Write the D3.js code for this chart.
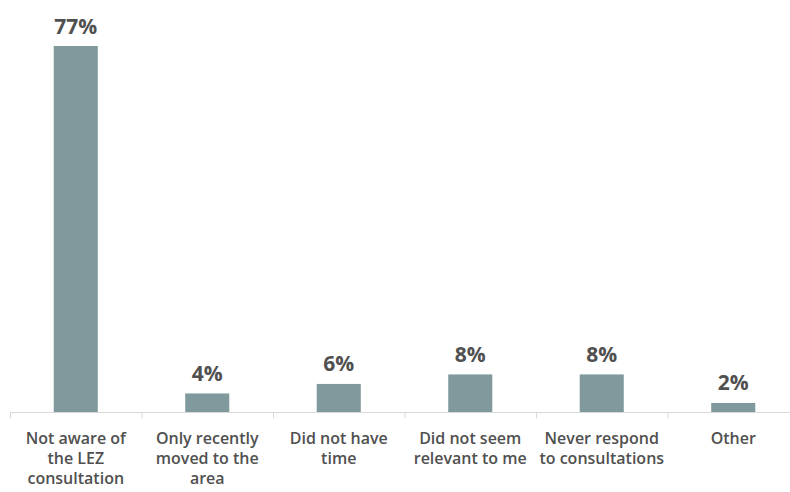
<!DOCTYPE html>
<html>
<head>
<meta charset="utf-8">
<script src="https://cdn.jsdelivr.net/npm/d3@7"></script>
<style>
  body { margin: 0; background: #fff; }
  svg { display: block; font-family: "Open Sans", sans-serif; }
  .cat { fill: #505050; font-size: 16px; font-weight: 600; }
  .val { fill: #505050; font-size: 21px; font-weight: bold; }
</style>
</head>
<body>
<svg width="790" height="492"></svg>
<script>
// categories (each label split in lines)
const categories = [
  ["Not aware of", "the LEZ", "consultation"],
  ["Only recently", "moved to the", "area"],
  ["Did not have", "time"],
  ["Did not seem", "relevant to me"],
  ["Never respond", "to consultations"],
  ["Other"]
];
const values = [77, 4, 6, 8, 8, 2];

const svg = d3.select("svg");
const baseY = 412.5;

const x = d3.scaleBand()
  .domain(d3.range(categories.length))
  .range([10, 799])
  .paddingInner(0.665)
  .paddingOuter(0.3325);

const y = d3.scaleLinear()
  .domain([0, 77])
  .range([baseY, 46]);

// bars
svg.selectAll(".bar")
  .data(values)
  .enter().append("rect")
  .attr("class", "bar")
  .attr("x", (d, i) => x(i))
  .attr("y", d => y(d))
  .attr("width", x.bandwidth())
  .attr("height", d => baseY - y(d))
  .attr("fill", "#7f999c");

// axis line + ticks
const step = x.step();
svg.append("line")
  .attr("x1", 10).attr("x2", 790)
  .attr("y1", baseY).attr("y2", baseY)
  .attr("stroke", "#d9d9d9").attr("stroke-width", 1);

svg.selectAll(".tick")
  .data(d3.range(categories.length))
  .enter().append("line")
  .attr("x1", i => 10 + i * step + 0.5)
  .attr("x2", i => 10 + i * step + 0.5)
  .attr("y1", baseY)
  .attr("y2", baseY + 6)
  .attr("stroke", "#d9d9d9");

// value labels
svg.selectAll(".val")
  .data(values)
  .enter().append("text")
  .attr("class", "val")
  .attr("text-anchor", "middle")
  .attr("x", (d, i) => x(i) + x.bandwidth() / 2)
  .attr("y", d => y(d) - 12.5)
  .text(d => d + "%");

// category labels
const cat = svg.selectAll(".cat")
  .data(categories)
  .enter().append("text")
  .attr("class", "cat")
  .attr("text-anchor", "middle")
  .attr("x", (d, i) => x(i) + x.bandwidth() / 2)
  .attr("y", 444);

cat.selectAll("tspan")
  .data(d => d)
  .enter().append("tspan")
  .attr("x", function () { return this.parentNode.getAttribute("x"); })
  .attr("dy", (d, i) => i === 0 ? 0 : 20)
  .text(d => d);
</script>
</body>
</html>
